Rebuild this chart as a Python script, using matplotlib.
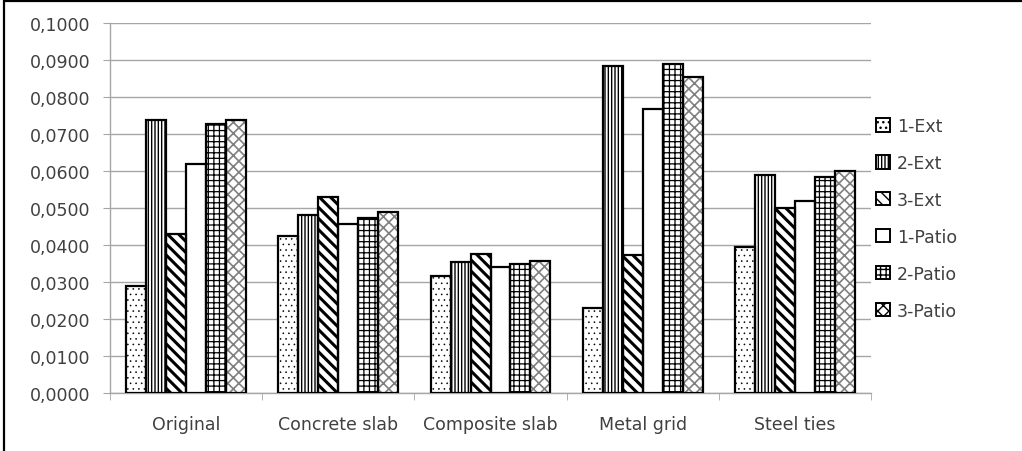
import matplotlib
matplotlib.use("Agg")
import matplotlib.pyplot as plt
import numpy as np
from matplotlib.patches import Patch, Rectangle

categories = ["Original", "Concrete slab", "Composite slab", "Metal grid", "Steel ties"]
series_names = ["1-Ext", "2-Ext", "3-Ext", "1-Patio", "2-Patio", "3-Patio"]

ext_1 = [0.0288, 0.0423, 0.0315, 0.0229, 0.0394]
ext_2 = [0.0739, 0.0480, 0.0353, 0.0884, 0.0590]
ext_3 = [0.0431, 0.0531, 0.0375, 0.0372, 0.0499]
patio_1 = [0.0620, 0.0456, 0.0340, 0.0768, 0.0520]
patio_2 = [0.0728, 0.0472, 0.0348, 0.0889, 0.0585]
patio_3 = [0.0739, 0.0490, 0.0356, 0.0854, 0.0601]

y_ticks = [0.0, 0.01, 0.02, 0.03, 0.04, 0.05, 0.06, 0.07, 0.08, 0.09, 0.10]

series = [ext_1, ext_2, ext_3, patio_1, patio_2, patio_3]
hatches = ["...", "|||||", "\\\\\\", "", "+++", "xxx"]
hatch_colors = ["black", "black", "black", "black", "black", "#808080"]
hatch_widths = [0.4, 1.0, 2.2, 1.0, 0.9, 1.2]

plt.rcParams["font.family"] = ["DejaVu Sans"]
text_color = "#404040"
grid_color = "#a6a6a6"
font_size = 12.5

fig = plt.figure(figsize=(10.22, 4.52), dpi=100)
ax = fig.add_axes([110 / 1022, 1 - 394 / 452, 761 / 1022, 370 / 452])

x = np.arange(len(categories))
width = 0.131
offsets = (np.arange(len(series)) - 2.5) * width

for vals, h, hc, hw, off in zip(series, hatches, hatch_colors, hatch_widths, offsets):
    with plt.rc_context({"hatch.linewidth": hw, "hatch.color": hc}):
        ax.bar(x + off, vals, width, color="white", edgecolor=hc, hatch=h,
               linewidth=0, zorder=2)
    ax.bar(x + off, vals, width, facecolor="none", edgecolor="black",
           linewidth=1.6, zorder=3)

ax.set_xlim(-0.5, len(categories) - 0.5)
ax.set_ylim(0, 0.1)
ax.set_yticks(y_ticks)
ax.set_yticklabels([f"{v:.4f}".replace(".", ",") for v in y_ticks])
ax.set_xticks(x)
ax.set_xticklabels(categories)
ax.set_xticks(np.arange(len(categories) + 1) - 0.5, minor=True)
ax.tick_params(axis="x", which="major", length=0, pad=16, labelsize=font_size,
               labelcolor=text_color)
ax.tick_params(axis="x", which="minor", length=5, color=grid_color, direction="out")
ax.tick_params(axis="y", length=5, color=grid_color, labelsize=font_size,
               labelcolor=text_color, pad=9)

ax.yaxis.grid(True, color=grid_color, linewidth=1.0, zorder=0)
ax.set_axisbelow(True)
for side in ["top", "right"]:
    ax.spines[side].set_visible(False)
for side in ["left", "bottom"]:
    ax.spines[side].set_color(grid_color)
    ax.spines[side].set_linewidth(1.0)

handles = []
for name, h in zip(series_names, hatches):
    handles.append(Patch(facecolor="white", edgecolor="black", hatch=h,
                         linewidth=1.4, label=name))
leg = fig.legend(handles=handles, loc="upper left",
                 bbox_to_anchor=(876 / 1022, 1 - 118 / 452),
                 frameon=False, fontsize=font_size, handlelength=0.8, handleheight=0.8,
                 handletextpad=0.4, labelspacing=1.09, borderaxespad=0, borderpad=0)
for t in leg.get_texts():
    t.set_color(text_color)

# outer chart frame
fig.patches.append(Rectangle((4 / 1022, -0.05), 1.1, 1.05 - 1.5 / 452,
                             transform=fig.transFigure, fill=False,
                             edgecolor="black", linewidth=1.6))

fig.savefig("out.png", dpi=100)
